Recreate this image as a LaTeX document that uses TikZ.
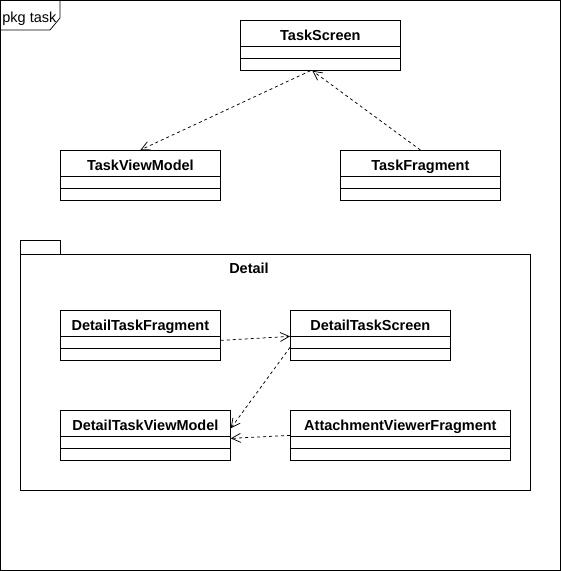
\documentclass[tikz,border=0pt]{standalone}
\usepackage{fontspec}
\setmainfont{Liberation Sans}
\usetikzlibrary{arrows.meta,positioning}

\tikzset{
  umlclass/.style={draw,anchor=north west,minimum width=#1,inner sep=0pt,
    text height=20pt,text depth=30pt,font=\fontsize{14.5}{17}\selectfont\bfseries,
    path picture={
      \draw ([yshift=-26pt]path picture bounding box.north west)--([yshift=-26pt]path picture bounding box.north east);
      \draw ([yshift=-38pt]path picture bounding box.north west)--([yshift=-38pt]path picture bounding box.north east);}},
  umlclass/.default=160pt,
  dep/.style={->,dash pattern=on 3pt off 3pt},
}

\begin{document}
\begin{tikzpicture}[x=1pt,y=-1pt,line width=0.75pt,>={Straight Barb[length=9pt,width=9pt]}]
\useasboundingbox (0,0) rectangle (561,571);
% frame of the package
\draw (0.5,0.5) rectangle (560.5,570.5);
\draw (0.5,30) -- (50,30) -- (60,18) -- (60,0.5);
\node[anchor=base west,inner sep=0pt,font=\fontsize{14.5}{17}\selectfont] (pkg) at (2,22) {pkg task};
% top level classes
\node[umlclass] (ts) at (240,20) {TaskScreen};
\node[umlclass] (tvm) at (60,150) {TaskViewModel};
\node[umlclass] (tf) at (340,150) {TaskFragment};
% sub package
\draw (20,240) rectangle (60,254);
\draw (20,254) rectangle (530,490);
\node[anchor=base,inner sep=0pt,font=\fontsize{14.5}{17}\selectfont\bfseries] (detail) at (249,273) {Detail};
\node[umlclass] (dtf) at (60,310) {DetailTaskFragment};
\node[umlclass] (dts) at (290,310) {DetailTaskScreen};
\node[umlclass=170pt] (dtvm) at (60,410) {DetailTaskViewModel};
\node[umlclass=220pt] (avf) at (290,410) {AttachmentViewerFragment};
% dependencies
\draw[dep] ([xshift=-10pt]ts.south) -- (tvm.north);
\draw[dep] (tf.north) -- ([xshift=-8pt]ts.south);
\draw[dep] ([yshift=-5pt]dtf.east) -- ([yshift=-1pt]dts.west);
\draw[dep] ([yshift=-12pt]dts.west) -- ([yshift=7pt]dtvm.east);
\draw[dep] (avf.west) -- ([yshift=-3pt]dtvm.east);
\end{tikzpicture}
\end{document}
